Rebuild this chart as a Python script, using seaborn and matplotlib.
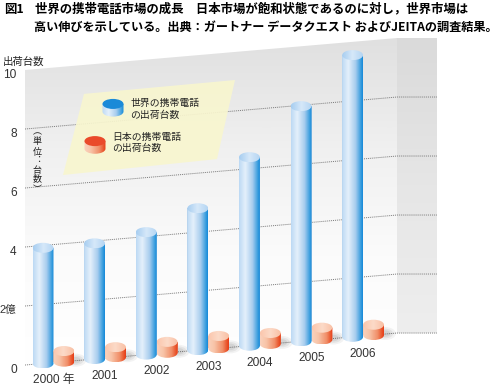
import matplotlib
matplotlib.use('Agg')
import matplotlib.pyplot as plt
import numpy as np
import pandas as pd
import seaborn as sns
from matplotlib.colors import LinearSegmentedColormap
from matplotlib.patches import Ellipse, PathPatch, Polygon
from matplotlib.path import Path
from matplotlib.transforms import Affine2D, ScaledTranslation

years = ['2000 年', '2001', '2002', '2003', '2004', '2005', '2006']
world_units = [3.92, 3.92, 4.15, 4.81, 6.39, 7.97, 9.55]
japan_units = [0.36, 0.34, 0.37, 0.42, 0.37, 0.40, 0.35]
tick_values = [0, 2, 4, 6, 8, 10]
tick_labels = ['0', '2億', '4', '6', '8', '10']
world_name = '世界の携帯電話\nの出荷台数'
japan_name = '日本の携帯電話\nの出荷台数'

W, H = 504, 390
sns.set_style('white')
plt.rcParams['font.family'] = ['Liberation Sans', 'Noto Sans CJK JP', 'DejaVu Sans']
JP = ['Noto Sans CJK JP', 'DejaVu Sans']

# floor slope of the fake 3D wall, in value units per category step
SLOPE = 0.1504
LEFT, CORNER, RIGHT = -0.552, 6.657, 7.432
CAP = 0.170  # half height of the cylinder ellipses


def rise(pos):
    return SLOPE * (pos - LEFT)


def ramp(colors):
    return LinearSegmentedColormap.from_list('r', colors)


WORLD_BODY = ramp([(0, '#bcd9f4'), (0.3, '#e4f0fb'), (0.65, '#a8cdee'), (0.9, '#3a9ede'), (1, '#1487d8')])
JAPAN_BODY = ramp([(0, '#fad2bd'), (0.3, '#f8c4a8'), (0.7, '#f08e68'), (0.92, '#e94f26'), (1, '#e63c18')])
WORLD_TOP = ramp([(0, '#a6cdf0'), (0.5, '#d6e8f9'), (1, '#b4d5f3')])
JAPAN_TOP = ramp([(0, '#fbc6ac'), (0.5, '#fcdac8'), (1, '#f9c0a4')])

fig = plt.figure(figsize=(W / 100, H / 100), dpi=100)
ax = fig.add_axes([25 / W, 0, (437 - 25) / W, 1])

df = pd.DataFrame({
    'year': years * 2,
    'units': world_units + japan_units,
    'market': ['world'] * len(years) + ['japan'] * len(years),
})
sns.barplot(data=df, x='year', y='units', hue='market', width=0.81, gap=0, dodge=True,
            palette={'world': '#a8cdee', 'japan': '#f08e68'}, legend=False, ax=ax, zorder=3,
            linewidth=0, errorbar=None)

ylim = (-0.847, 12.373)
xlim = (LEFT, RIGHT)
grad = np.linspace(0, 1, 128)


def gradient(cmap, extent, clip, zorder, vertical=False):
    arr = grad[:, None] if vertical else grad[None, :]
    im = ax.imshow(arr, cmap=cmap, extent=extent, origin='lower', aspect='auto',
                   interpolation='bilinear', vmin=0, vmax=1, zorder=zorder)
    im.set_clip_path(clip)
    return im


def cylinder(rect, body, top, zorder):
    x0, w = rect.get_x(), rect.get_width()
    cx = x0 + w / 2
    base = rise(cx)
    rect.set_y(base)
    rect.set_zorder(zorder - 0.1)
    head = base + rect.get_height()
    arc = Path.arc(180, 360).transformed(Affine2D().scale(w / 2, CAP).translate(cx, base))
    verts = np.vstack([arc.vertices, [[x0 + w, head], [x0, head], [x0, head]]])
    codes = list(arc.codes) + [Path.LINETO, Path.LINETO, Path.CLOSEPOLY]
    outline = PathPatch(Path(verts, codes), transform=ax.transData)
    gradient(body, [x0, x0 + w, base - CAP, head], outline, zorder)
    cap = Ellipse((cx, head), w, 2 * CAP, transform=ax.transData)
    gradient(top, [x0, x0 + w, head - CAP, head + CAP], cap, zorder + 0.01)


# wall
wall = Polygon([[LEFT, rise(LEFT)], [CORNER, rise(CORNER)], [CORNER, 10 + rise(CORNER)], [LEFT, 10]],
               transform=ax.transData)
gradient(ramp(['#ffffff', '#fbfbfb', '#f0f0f0', '#e0e0e0']),
         [LEFT, CORNER, 0, 10 + rise(CORNER)], wall, 0, vertical=True)
side = Polygon([[CORNER, rise(CORNER)], [RIGHT, rise(CORNER)], [RIGHT, 10 + rise(CORNER)],
                [CORNER, 10 + rise(CORNER)]], transform=ax.transData)
gradient(ramp(['#eeeeee', '#e6e6e6', '#dadada']),
         [CORNER, RIGHT, rise(CORNER), 10 + rise(CORNER)], side, 0.1, vertical=True)

# dotted grid, sloped on the wall and flat on the side panel
for v in tick_values[:-1]:
    ax.plot([LEFT, CORNER, RIGHT], [v, v + rise(CORNER), v + rise(CORNER)], color='#7a7a7a',
            lw=0.7, ls=(0, (1, 1)), zorder=0.5)

# legend plate
plate = Polygon([[0.591, 9.19], [3.517, 9.66], [3.169, 6.98], [0.184, 6.44]], closed=True,
                facecolor='#f8f6cf', edgecolor='none', alpha=0.92, zorder=1, transform=ax.transData)
ax.add_patch(plate)

world_bars, japan_bars = ax.containers[0], ax.containers[1]
for i, (wb, jb) in enumerate(zip(world_bars, japan_bars)):
    cylinder(wb, WORLD_BODY, WORLD_TOP, 3 + i * 0.2)
    cylinder(jb, JAPAN_BODY, JAPAN_TOP, 3.1 + i * 0.2)
    # soft shadow to the right of the small cylinder
    cx = jb.get_x() + jb.get_width()
    for k, alpha in zip([1.0, 0.75, 0.5], [0.07, 0.09, 0.11]):
        ax.add_patch(Ellipse((cx + 0.02, rise(cx) + 0.02), 0.42 * k, 0.44 * k, color='#555555',
                             alpha=alpha, lw=0, zorder=2))
    ax.text(i, rise(i) - 0.6, years[i], ha='center', va='center', fontsize=8.6, color='#333333',
            zorder=6)


# legend swatches
def swatch(cx, head, body, top_color):
    w, h = 0.407, 0.26
    arc = Path.arc(180, 360).transformed(Affine2D().scale(w / 2, CAP).translate(cx, head - h))
    verts = np.vstack([arc.vertices, [[cx + w / 2, head], [cx - w / 2, head], [cx - w / 2, head]]])
    codes = list(arc.codes) + [Path.LINETO, Path.LINETO, Path.CLOSEPOLY]
    outline = PathPatch(Path(verts, codes), transform=ax.transData)
    gradient(body, [cx - w / 2, cx + w / 2, head - h - CAP, head], outline, 2)
    ax.add_patch(Ellipse((cx, head), w, 2 * CAP, color=top_color, lw=0, zorder=2.1))


swatch(1.153, 8.85, WORLD_BODY, '#1a8ad8')
swatch(0.804, 7.59, JAPAN_BODY, '#ea4a2a')
ax.text(1.483, 8.68, world_name, family=JP, fontsize=7.1, color='#222222', va='center', ha='left',
        linespacing=1.2, zorder=4)
ax.text(1.134, 7.54, japan_name, family=JP, fontsize=7.1, color='#222222', va='center', ha='left',
        linespacing=1.2, zorder=4)

ax.set_xlim(xlim)
ax.set_ylim(ylim)
ax.set_xticks([])
ax.set_xlabel('')
ax.set_ylabel('')
ax.set_yticks(tick_values, tick_labels)
ax.tick_params(axis='y', length=0, pad=6, labelsize=8.6, labelcolor='#333333')
shift = ScaledTranslation(0, -3 / 100, fig.dpi_scale_trans)
for lab in ax.get_yticklabels():
    lab.set_transform(lab.get_transform() + shift)
    if '億' in lab.get_text():
        lab.set_fontsize(7.8)
sns.despine(ax=ax, left=True, bottom=True)
ax.patch.set_alpha(0)


def page_text(x, y, s, size=8.95, **kw):
    fig.text(x / W, 1 - y / H, s, va='center', family=JP, fontsize=size, **kw)


page_text(4, 9, '図1', fontweight='bold', color='black')
page_text(35, 9, '世界の携帯電話市場の成長　日本市場が飽和状態であるのに対し，世界市場は',
          fontweight='bold', color='black')
page_text(34, 27, '高い伸びを示している。出典：ガートナー データクエスト およびJEITAの調査結果。',
          size=8.75, fontweight='bold', color='black')
page_text(3, 62, '出荷台数', size=7.5, color='#222222')
# vertical unit note, one glyph at a time since matplotlib has no vertical text
for ch, y in zip('︵単位︓台数︶', [132, 141, 152, 161, 170, 179, 190]):
    fig.text(37 / W, 1 - y / H, ch, family=JP, fontsize=6.5, color='#222222', ha='center', va='center')

fig.savefig('out.png', dpi=100)
